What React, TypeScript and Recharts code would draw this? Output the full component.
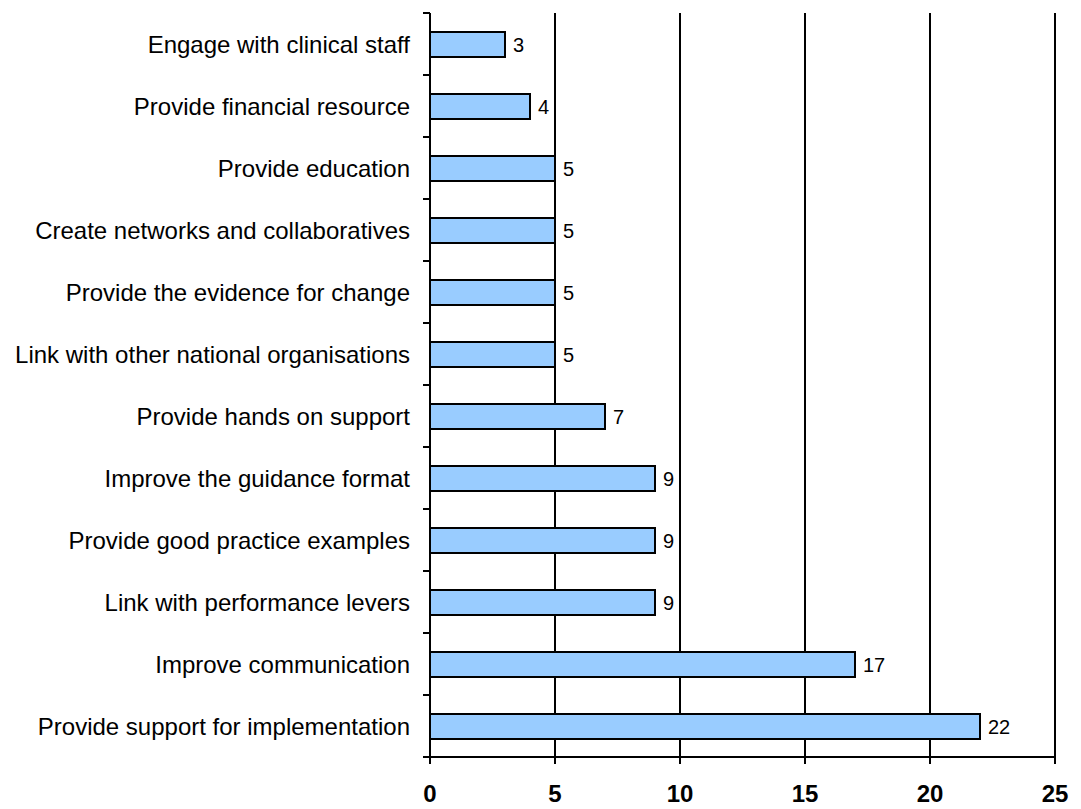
import React from 'react';
import { BarChart, Bar, XAxis, YAxis, CartesianGrid, LabelList } from 'recharts';

const categories = [
  'Engage with clinical staff',
  'Provide financial resource',
  'Provide education',
  'Create networks and collaboratives',
  'Provide the evidence for change',
  'Link with other national organisations',
  'Provide hands on support',
  'Improve the guidance format',
  'Provide good practice examples',
  'Link with performance levers',
  'Improve communication',
  'Provide support for implementation',
];

const counts = [3, 4, 5, 5, 5, 5, 7, 9, 9, 9, 17, 22];

const xTicks = [0, 5, 10, 15, 20, 25];

const data = categories.map((name, i) => ({ name, value: counts[i] }));

const FONT = '"Liberation Sans", Arial, sans-serif';

const W = 1073;
const H = 801;
const M = { top: 5, right: 26, left: 0, bottom: 0 };
const Y_W = 422;
const X_H = 52;
const band = (H - M.top - M.bottom - X_H) / categories.length;

// label plus a small tick at the band edges
const CatTick = (props: any) => {
  const { x, y, payload, index } = props;
  const ax = x + 20;
  return (
    <g>
      <text x={x} y={y} dy="0.355em" textAnchor="end" fontSize={24} fontFamily={FONT} fill="#000">
        {payload.value}
      </text>
      <line x1={ax - 7} x2={ax} y1={y - band / 2} y2={y - band / 2} stroke="#000" strokeWidth={2} />
      {index === categories.length - 1 && (
        <line x1={ax - 7} x2={ax} y1={y + band / 2} y2={y + band / 2} stroke="#000" strokeWidth={2} />
      )}
    </g>
  );
};

const App = () => {
  return (
    <div style={{ fontFamily: FONT }}>
      <BarChart width={W} height={H} data={data} layout="vertical" margin={M} barSize={25}>
        <CartesianGrid horizontal={false} stroke="#000" strokeWidth={2} />
        <XAxis
          type="number"
          domain={[0, 25]}
          ticks={xTicks}
          height={X_H}
          stroke="#000"
          strokeWidth={2}
          tickSize={7}
          tickMargin={21}
          tick={{ fontSize: 24, fontWeight: 'bold', fill: '#000', fontFamily: FONT }}
        />
        <YAxis
          type="category"
          dataKey="name"
          width={Y_W}
          stroke="#000"
          strokeWidth={2}
          tickLine={false}
          tickSize={7}
          tickMargin={13}
          interval={0}
          tick={<CatTick />}
        />
        <Bar dataKey="value" fill="#99ccff" stroke="#000" strokeWidth={2} isAnimationActive={false}>
          <LabelList dataKey="value" position="right" offset={8} fontSize={20} fill="#000" fontFamily={FONT} />
        </Bar>
      </BarChart>
    </div>
  );
};

export default App;
